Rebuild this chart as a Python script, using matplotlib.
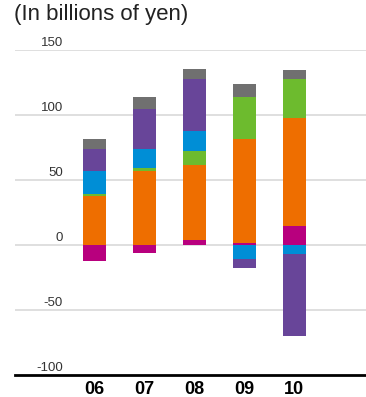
import matplotlib
matplotlib.use("Agg")
import matplotlib.pyplot as plt
import numpy as np

plt.rcParams['font.family'] = ['Liberation Sans', 'DejaVu Sans']

years = ["06", "07", "08", "09", "10"]
series_names = ["magenta", "orange", "green", "blue", "purple", "gray"]
magenta = [-12.3, -6.2, 3.8, 1.5, 14.9]
orange = [37.9, 56.9, 57.7, 80.0, 83.0]
green = [1.3, 2.3, 10.8, 32.3, 29.8]
blue = [17.7, 14.6, 15.4, -10.8, -6.9]
purple = [16.9, 30.8, 40.0, -6.9, -63.1]
gray = [7.7, 9.2, 7.7, 10.0, 6.9]
colors = ["#B8007E", "#EE6E00", "#6DBB2E", "#008ED6", "#684599", "#707070"]
yticks = [150, 100, 50, 0, -50, -100]

W, H = 366, 397
fig = plt.figure(figsize=(W / 100, H / 100), dpi=100)
ax = fig.add_axes([15 / W, 1 - 375 / H, 1 - 15 / W, (375 - 50) / H])
ax.set_ylim(-100, 150)
left = -(94.4 - 15) / 50
ax.set_xlim(left, left + 351 / 50)

for t in yticks[:-1]:
    ax.axhline(t, color="#d9d9d9", lw=1.2, zorder=0)
ax.axhline(-100, color="black", lw=2, zorder=3, clip_on=False)

x = np.arange(len(years))
pos = np.zeros(len(years))
neg = np.zeros(len(years))
for vals, c in zip([magenta, orange, green, blue, purple, gray], colors):
    v = np.array(vals)
    bottoms = np.where(v >= 0, pos, neg)
    ax.bar(x, v, bottom=bottoms, width=0.46, color=c, zorder=2, linewidth=0)
    pos = pos + np.where(v >= 0, v, 0)
    neg = neg + np.where(v < 0, v, 0)

for s in ax.spines.values():
    s.set_visible(False)
ax.set_xticks([])
ax.set_yticks([])

trans = matplotlib.transforms.blended_transform_factory(fig.transFigure, ax.transData)
for t in yticks:
    ax.text(63 / W, t + 0.8, str(t), transform=trans, ha="right", va="bottom",
            fontsize=9.5, color="#333333")

for xi, y in zip(x, years):
    ax.text(xi, -104.5, y, ha="center", va="top", fontsize=13, fontweight="bold",
            color="black", clip_on=False)

fig.text(14 / W, 1 - 4 / H, "(In billions of yen)", ha="left", va="top",
         fontsize=16, color="#222222")

fig.savefig("out.png", dpi=100)
